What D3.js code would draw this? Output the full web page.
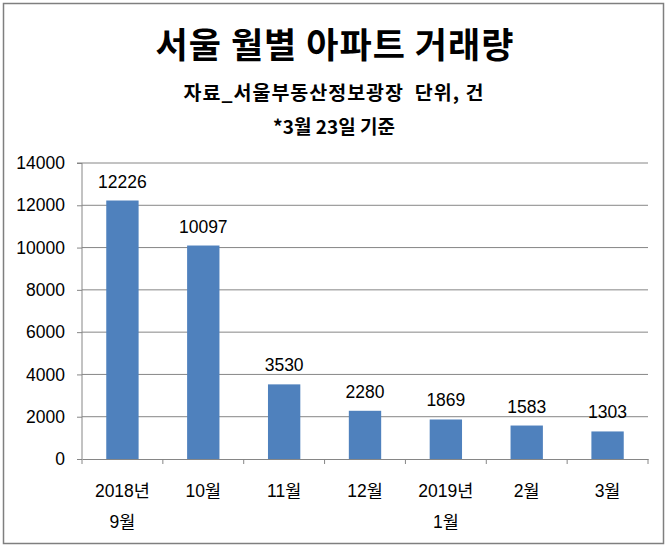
<!DOCTYPE html>
<html><head><meta charset="utf-8">
<script src="https://cdn.jsdelivr.net/npm/d3@7"></script>
<style>body{margin:0;background:#fff} text{white-space:pre}</style>
</head><body>
<svg id="c" width="670" height="547"></svg>
<script>
const categories = [["2018년","9월"],["10월"],["11월"],["12월"],["2019년","1월"],["2월"],["3월"]];
const values = [12226, 10097, 3530, 2280, 1869, 1583, 1303];
const yTicks = [0, 2000, 4000, 6000, 8000, 10000, 12000, 14000];
const title = "서울 월별 아파트 거래량";
const subtitle1 = "자료_서울부동산정보광장  단위, 건";
const subtitle2 = "*3월 23일 기준";

const svg = d3.select("#c");
const kr = "'Noto Sans CJK KR', sans-serif";
const lat = "'Liberation Sans', Arial, 'Noto Sans CJK KR', sans-serif";

svg.append("rect").attr("x",3.5).attr("y",3.5).attr("width",660).attr("height",540)
  .attr("fill","#fff").attr("stroke","#7f7f7f").attr("stroke-width",1.5);

const m = {l:82, r:648, t:163, b:459};
const x = d3.scaleBand().domain(d3.range(categories.length)).range([m.l, m.r]).paddingInner(0.6).paddingOuter(0.3);
const xb = d3.scaleBand().domain(d3.range(categories.length)).range([m.l, m.r]);
const y = d3.scaleLinear().domain([0,14000]).range([m.b, m.t]);

// gridlines
svg.append("g").selectAll("line").data(yTicks.filter(d=>d>0)).join("line")
  .attr("x1",m.l).attr("x2",m.r).attr("y1",d=>y(d)).attr("y2",d=>y(d))
  .attr("stroke","#868686").attr("stroke-width",1);

// y axis
const ya = svg.append("g").attr("transform",`translate(${m.l},0)`)
  .call(d3.axisLeft(y).tickValues(yTicks).tickSize(5).tickPadding(12).tickFormat(d3.format("d")));
ya.select(".domain").attr("stroke","#868686").attr("d",`M-5,${m.t}H0V${m.b}`);
ya.selectAll(".tick line").attr("stroke","#868686");
ya.selectAll("text").attr("font-family",lat).attr("font-size",17.5).attr("fill","#000");

// bars
svg.append("g").selectAll("rect").data(values).join("rect")
  .attr("x",(d,i)=>x(i)).attr("width",x.bandwidth())
  .attr("y",d=>y(d)).attr("height",d=>y(0)-y(d)).attr("fill","#4f81bd");

// value labels
svg.append("g").selectAll("text").data(values).join("text")
  .attr("x",(d,i)=>x(i)+x.bandwidth()/2).attr("y",d=>y(d)-13)
  .attr("text-anchor","middle").attr("font-family",lat).attr("font-size",17.5).attr("fill","#000")
  .text(d=>d);

// x axis
const xa = svg.append("g").attr("transform",`translate(0,${m.b})`)
  .call(d3.axisBottom(xb).tickSize(0).tickFormat(""));
xa.select(".domain").attr("stroke","#868686");
xa.selectAll(".tick").remove();
svg.append("g").selectAll("line").data(d3.range(categories.length+1)).join("line")
  .attr("x1",i=>m.l + i*xb.step()).attr("x2",i=>m.l + i*xb.step())
  .attr("y1",m.b).attr("y2",m.b+5).attr("stroke","#868686");

const xl = svg.append("g").selectAll("text").data(categories).join("text")
  .attr("x",(d,i)=>xb(i)+xb.bandwidth()/2).attr("y",497)
  .attr("text-anchor","middle").attr("font-family",lat).attr("font-size",17.5).attr("fill","#000");
xl.each(function(d,i){
  const t = d3.select(this);
  const cx = xb(i)+xb.bandwidth()/2;
  d.forEach((s,j)=>t.append("tspan").attr("x",cx).attr("dy", j===0?0:31).text(s));
});

// titles
svg.append("text").attr("x",335).attr("y",58).attr("text-anchor","middle")
  .attr("font-family",kr).attr("font-weight","bold").attr("font-size",35).attr("letter-spacing",1).text(title);
svg.append("text").attr("x",334).attr("y",100).attr("text-anchor","middle")
  .attr("font-family",kr).attr("font-weight","bold").attr("font-size",19.5).attr("letter-spacing",1).text(subtitle1);
svg.append("text").attr("x",334).attr("y",134).attr("text-anchor","middle")
  .attr("font-family",kr).attr("font-weight","bold").attr("font-size",19).text(subtitle2);
</script>
</body></html>
